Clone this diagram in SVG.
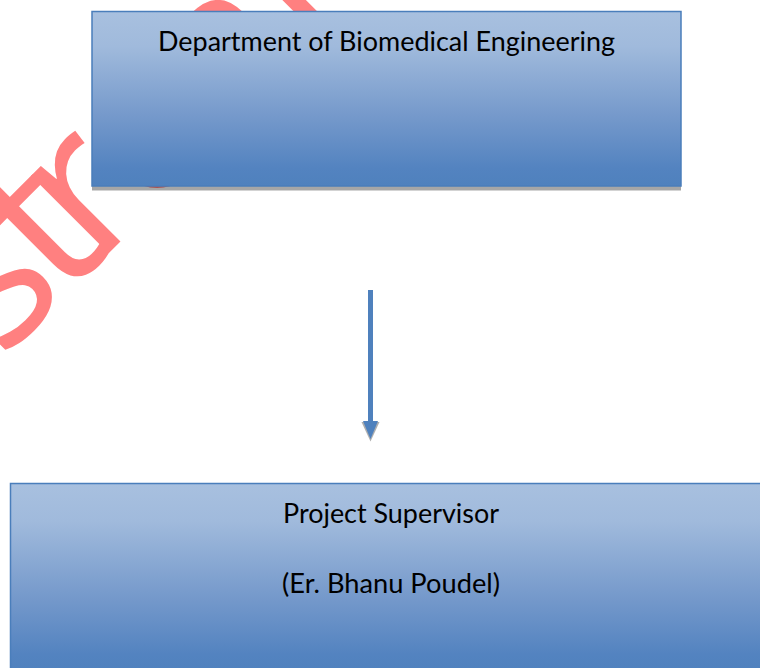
<svg xmlns="http://www.w3.org/2000/svg" width="760" height="668" viewBox="0 0 760 668">
  <style>
    .box { stroke: #4a7ebb; stroke-width: 1.5; }
    .label { font-family: "Lato", "Open Sans", sans-serif; font-size: 27px; fill: #000000; text-anchor: middle; }
    .mark { font-family: "Open Sans", "Noto Sans", sans-serif; font-size: 205px; fill: #ff8080; }
    .shade { fill: #000000; fill-opacity: 0.35; }
    .conn { fill: #4f81bd; }
  </style>
  <defs>
    <linearGradient id="blueFill" x1="0" y1="0" x2="0" y2="1">
      <stop offset="0" stop-color="#a8c0df"/>
      <stop offset="0.2" stop-color="#a0badc"/>
      <stop offset="0.6" stop-color="#7599cb"/>
      <stop offset="0.9" stop-color="#5383c0"/>
      <stop offset="1" stop-color="#4f81bd"/>
    </linearGradient>
  </defs>

  <rect width="760" height="668" fill="#ffffff"/>

  <!-- diagonal watermark, sits behind the boxes -->
  <g id="watermark" transform="translate(181,181) rotate(-45)">
    <text class="mark" x="-254 -168 -120 -48 66 182" y="0">stream</text>
  </g>

  <g id="node-department">
    <rect class="shade" x="92" y="186" width="589" height="4.5"/>
    <rect class="box" x="92" y="11.5" width="589" height="174.5" fill="url(#blueFill)"/>
    <text class="label" x="386.5" y="51" textLength="457" lengthAdjust="spacingAndGlyphs">Department of Biomedical Engineering</text>
  </g>

  <g id="connectors">
    <polygon points="361.5,422 379.5,422 370.5,441.5" fill="#9a9a9a" fill-opacity="0.8"/>
    <rect class="conn" x="368" y="290" width="5" height="134"/>
    <polygon class="conn" points="363,421 378,421 370.5,439"/>
  </g>

  <g id="node-supervisor">
    <rect class="box" x="10.5" y="483.5" width="760" height="190" fill="url(#blueFill)"/>
    <text class="label" x="391" y="523" textLength="216" lengthAdjust="spacingAndGlyphs">Project Supervisor</text>
    <text class="label" x="391" y="593" textLength="218" lengthAdjust="spacingAndGlyphs">(Er. Bhanu Poudel)</text>
  </g>
</svg>
